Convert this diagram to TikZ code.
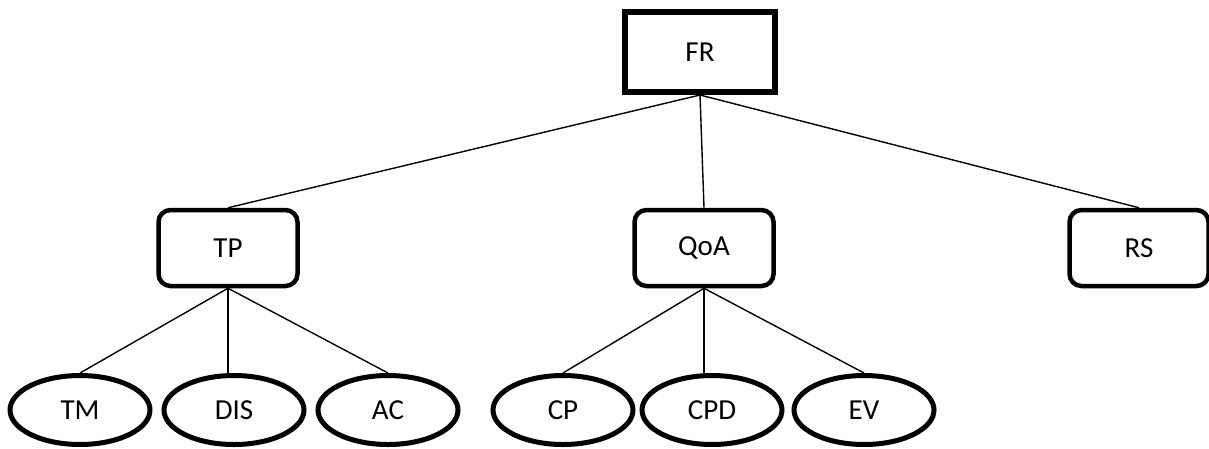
\documentclass[tikz,border=0pt]{standalone}
\usepackage{fontspec}
\setmainfont{Carlito}
\usetikzlibrary{shapes.geometric}
\begin{document}
\begin{tikzpicture}[x=1pt,y=-1pt,
  every node/.style={font=\fontsize{29}{34}\selectfont, inner sep=0pt},
  rootbox/.style={draw, line width=6pt, minimum width=150pt, minimum height=80pt},
  midbox/.style={draw, line width=4.5pt, rounded corners=12pt, minimum width=139pt, minimum height=76pt},
  leaf/.style={draw, ellipse, line width=5pt, minimum width=140pt, minimum height=69pt},
  link/.style={line width=1.4pt}]
\useasboundingbox (0,0) rectangle (1209,448);

% root
\node[rootbox] (FR) at (700,52) {FR};

% middle level
\node[midbox] (TP)  at (228,248)  {TP};
\node[midbox] (QoA) at (704,248)  {QoA};
\node[midbox] (RS)  at (1139,248) {RS};

% leaves
\node[leaf] (TM)  at (80,410)  {TM};
\node[leaf] (DIS) at (234,410) {DIS};
\node[leaf] (AC)  at (388,410) {AC};
\node[leaf] (CP)  at (563,410) {CP};
\node[leaf] (CPD) at (712,410) {CPD};
\node[leaf] (EV)  at (864,410) {EV};

% connectors
\draw[link] (FR.south) -- (TP.north);
\draw[link] (FR.south) -- (QoA.north);
\draw[link] (FR.south) -- (RS.north);

\draw[link] (TP.south) -- (TM.north);
\draw[link] (TP.south) -- (TP.south |- DIS.north);
\draw[link] (TP.south) -- (AC.north);

\draw[link] (QoA.south) -- (CP.north);
\draw[link] (QoA.south) -- (QoA.south |- CPD.north);
\draw[link] (QoA.south) -- (EV.north);
\end{tikzpicture}
\end{document}
